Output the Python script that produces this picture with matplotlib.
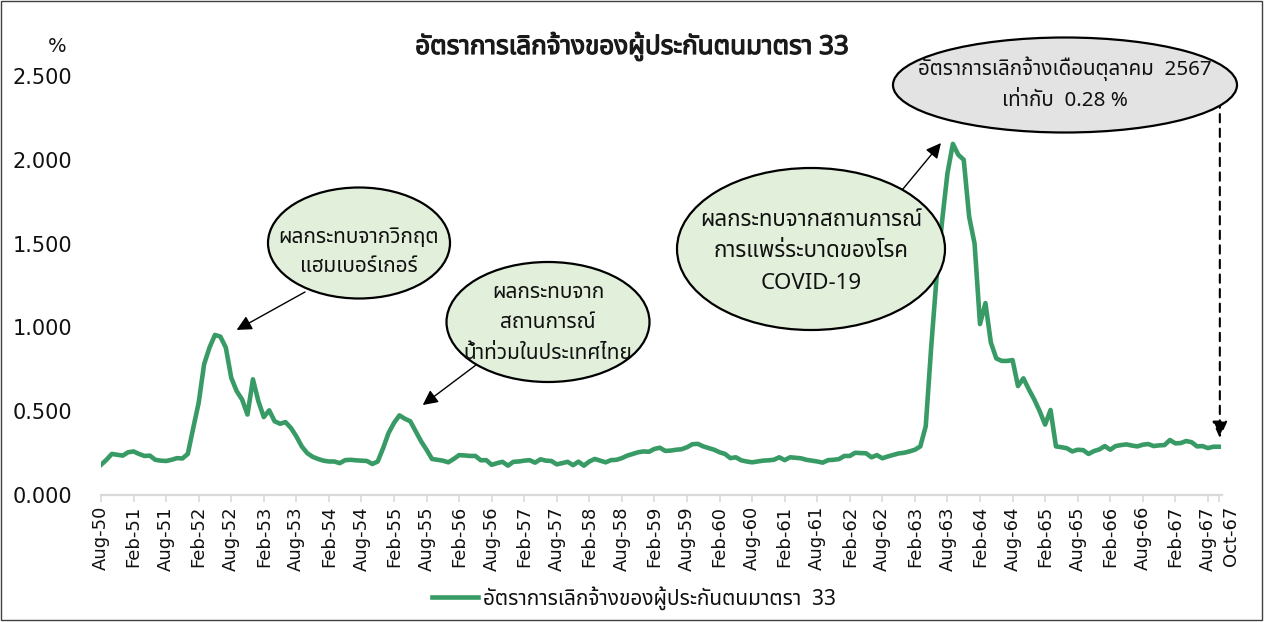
import matplotlib
matplotlib.use("Agg")
import matplotlib.pyplot as plt
from matplotlib import font_manager as fm
from matplotlib import patheffects as pe
from matplotlib import transforms as mtrans
from matplotlib.patches import Ellipse, Rectangle

# ---------------- data ----------------
values = [
    0.180, 0.210, 0.245, 0.240, 0.235, 0.255, 0.260, 0.245, 0.233, 0.235, 0.210, 0.205,
    0.203, 0.210, 0.220, 0.218, 0.245, 0.400, 0.550, 0.780, 0.880, 0.955, 0.945, 0.880,
    0.700, 0.620, 0.570, 0.480, 0.690, 0.560, 0.465, 0.505, 0.440, 0.425, 0.435, 0.400,
    0.350, 0.290, 0.250, 0.228, 0.215, 0.205, 0.200, 0.200, 0.190, 0.208, 0.210, 0.207,
    0.205, 0.203, 0.185, 0.200, 0.280, 0.370, 0.430, 0.475, 0.455, 0.440, 0.380, 0.320,
    0.270, 0.215, 0.210, 0.205, 0.195, 0.215, 0.238, 0.236, 0.233, 0.233, 0.207, 0.208,
    0.180, 0.190, 0.198, 0.175, 0.198, 0.200, 0.205, 0.208, 0.193, 0.213, 0.205, 0.203,
    0.183, 0.190, 0.198, 0.178, 0.199, 0.175, 0.200, 0.215, 0.205, 0.195, 0.208, 0.210,
    0.220, 0.235, 0.245, 0.255, 0.260, 0.258, 0.275, 0.282, 0.263, 0.265, 0.270, 0.273,
    0.285, 0.303, 0.305, 0.290, 0.280, 0.270, 0.255, 0.245, 0.220, 0.225, 0.207, 0.200,
    0.195, 0.200, 0.205, 0.207, 0.210, 0.225, 0.208, 0.225, 0.222, 0.219, 0.210, 0.205,
    0.200, 0.193, 0.208, 0.210, 0.214, 0.233, 0.233, 0.252, 0.250, 0.249, 0.225, 0.238,
    0.219, 0.230, 0.239, 0.248, 0.252, 0.260, 0.270, 0.290, 0.410, 0.880, 1.300, 1.630,
    1.920, 2.095, 2.030, 2.000, 1.660, 1.500, 1.020, 1.145, 0.910, 0.815, 0.800, 0.800,
    0.805, 0.650, 0.696, 0.630, 0.570, 0.500, 0.420, 0.507, 0.290, 0.285, 0.279, 0.260,
    0.270, 0.268, 0.245, 0.262, 0.272, 0.292, 0.270, 0.292, 0.298, 0.302, 0.295, 0.290,
    0.300, 0.304, 0.292, 0.296, 0.298, 0.328, 0.308, 0.310, 0.322, 0.315, 0.290, 0.292,
    0.280, 0.288, 0.288,
]
tick_positions = list(range(0, 205, 6)) + [206]
tick_labels = [
    "Aug-50", "Feb-51", "Aug-51", "Feb-52", "Aug-52", "Feb-53", "Aug-53", "Feb-54",
    "Aug-54", "Feb-55", "Aug-55", "Feb-56", "Aug-56", "Feb-57", "Aug-57", "Feb-58",
    "Aug-58", "Feb-59", "Aug-59", "Feb-60", "Aug-60", "Feb-61", "Aug-61", "Feb-62",
    "Aug-62", "Feb-63", "Aug-63", "Feb-64", "Aug-64", "Feb-65", "Aug-65", "Feb-66",
    "Aug-66", "Feb-67", "Aug-67", "Oct-67",
]
y_ticks = [0.0, 0.5, 1.0, 1.5, 2.0, 2.5]
series_name = "อัตราการเลิกจ้างของผู้ประกันตนมาตรา  33"
title = "อัตราการเลิกจ้างของผู้ประกันตนมาตรา 33"
note1 = "ผลกระทบจากวิกฤต\nแฮมเบอร์เกอร์"
note2 = "ผลกระทบจาก\nสถานการณ์\nน้ำท่วมในประเทศไทย"
note3 = "ผลกระทบจากสถานการณ์\nการแพร่ระบาดของโรค\nCOVID-19"
note4 = "อัตราการเลิกจ้างเดือนตุลาคม  2567\nเท่ากับ  0.28 %"

# ---------------- fonts ----------------
def find_thai_font():
    try:
        from fontTools.ttLib import TTFont
    except Exception:
        return None
    cands = []
    for f in fm.fontManager.ttflist:
        try:
            kw = {"fontNumber": 0} if f.fname.lower().endswith(".ttc") else {}
            tt = TTFont(f.fname, lazy=True, **kw)
            cmap = tt.getBestCmap()
            if cmap and 0x0E01 in cmap and 0x0E49 in cmap:
                cands.append(f.name)
        except Exception:
            pass
    if not cands:
        return None
    pref = ["Noto Sans Thai", "Noto Sans Thai UI", "Noto Sans Thai Looped", "Tahoma",
            "Leelawadee UI", "Sarabun", "Loma", "Garuda", "Waree", "Umpush", "Norasi"]
    for p in pref:
        if p in cands:
            return p
    return sorted(cands)[0]

thai_font = find_thai_font()
fams = ([thai_font] if thai_font else []) + ["DejaVu Sans"]
plt.rcParams["font.family"] = fams

W, H = 1271, 622
fig = plt.figure(figsize=(W / 100, H / 100), dpi=100)

def fx(px):
    return px / W

def fy(py):
    return 1 - py / H

ax = fig.add_axes([fx(101), fy(495), fx(1222) - fx(101), fy(76) - fy(495)])
line_color = "#389B66"
x = list(range(len(values)))
ax.plot(x, values, color=line_color, lw=3.3, solid_joinstyle="round", label=series_name)
ax.set_xlim(0, 206.6)
ax.set_ylim(0, 2.5)
ax.set_yticks(y_ticks)
ax.set_yticklabels([f"{v:.3f}" for v in y_ticks], family=["DejaVu Sans"], fontsize=15,
                   color="#111111")
ax.set_xticks(tick_positions)
ax.set_xticklabels(tick_labels, rotation=90, family=["DejaVu Sans"], fontsize=13,
                   color="#111111")
ax.tick_params(axis="y", length=0, pad=21)
ax.tick_params(axis="x", length=5, width=1.2, color="#D9D9D9", pad=3)
# last label sits a little to the right, as in the reference
last = ax.get_xticklabels()[-1]
last.set_transform(last.get_transform() + mtrans.ScaledTranslation(12 / 100, 0, fig.dpi_scale_trans))
for s in ["top", "right", "left"]:
    ax.spines[s].set_visible(False)
ax.spines["bottom"].set_color("#D9D9D9")
ax.spines["bottom"].set_linewidth(1.6)

# title and unit
fig.text(fx(632), fy(46), title, ha="center", va="center", fontsize=18.7, fontweight="bold",
         color="#1a1a1a",
         path_effects=[pe.withStroke(linewidth=0.9, foreground="#1a1a1a")])
fig.text(fx(57), fy(47), "%", ha="center", va="center", fontsize=14, family=["DejaVu Sans"],
         color="#111111")

# callouts
green_fill = "#E2EFDA"
def callout(cx, cy, w, h, text, fill, fs=15, ls=1.6, dy=0):
    e = Ellipse((fx(cx), fy(cy)), fx(w), h / H, transform=fig.transFigure,
                facecolor=fill, edgecolor="black", lw=1.6, zorder=5)
    fig.add_artist(e)
    fig.text(fx(cx), fy(cy + dy), text, ha="center", va="center", fontsize=fs,
             linespacing=ls, zorder=6, color="#111111")

callout(359, 243, 182, 111, note1, green_fill, fs=15, ls=1.55, dy=9)
callout(548, 322, 203, 120, note2, green_fill, fs=15, ls=1.6, dy=1)
callout(811, 249, 268, 162, note3, green_fill, fs=16, ls=1.65, dy=3)
callout(1065, 85, 344, 95, note4, "#E3E3E3", fs=14.8, ls=1.65, dy=-1)

arrow_kw = dict(arrowstyle="-|>,head_length=0.9,head_width=0.45", color="black", lw=1.0,
                shrinkA=0, shrinkB=0)
ax.annotate("", xy=(25.0, 0.985), xycoords="data", xytext=(fx(305), fy(292)),
            textcoords="figure fraction", arrowprops=arrow_kw)
ax.annotate("", xy=(59.3, 0.537), xycoords="data", xytext=(fx(480), fy(362)),
            textcoords="figure fraction", arrowprops=arrow_kw)
ax.annotate("", xy=(154.8, 2.10), xycoords="data", xytext=(fx(898), fy(195)),
            textcoords="figure fraction", arrowprops=arrow_kw)
ax.annotate("", xy=(206.2, 0.34), xycoords="data", xytext=(206.2, 2.36),
            textcoords="data",
            arrowprops=dict(arrowstyle="-|>,head_length=1.0,head_width=0.45", color="black",
                            lw=1.5, linestyle=(0, (4, 3)), shrinkA=0, shrinkB=0))

# legend
leg = ax.legend(loc="center", bbox_to_anchor=(fx(634), fy(598)), bbox_transform=fig.transFigure,
                frameon=False, fontsize=15, handlelength=2.2, handletextpad=0.25)
for t in leg.get_texts():
    t.set_color("#111111")

# outer border
fig.add_artist(Rectangle((fx(1), fy(620)), fx(1261), fy(1) - fy(620), transform=fig.transFigure,
                         fill=False, edgecolor="#404040", lw=1.0))

fig.savefig("out.png", dpi=100)
